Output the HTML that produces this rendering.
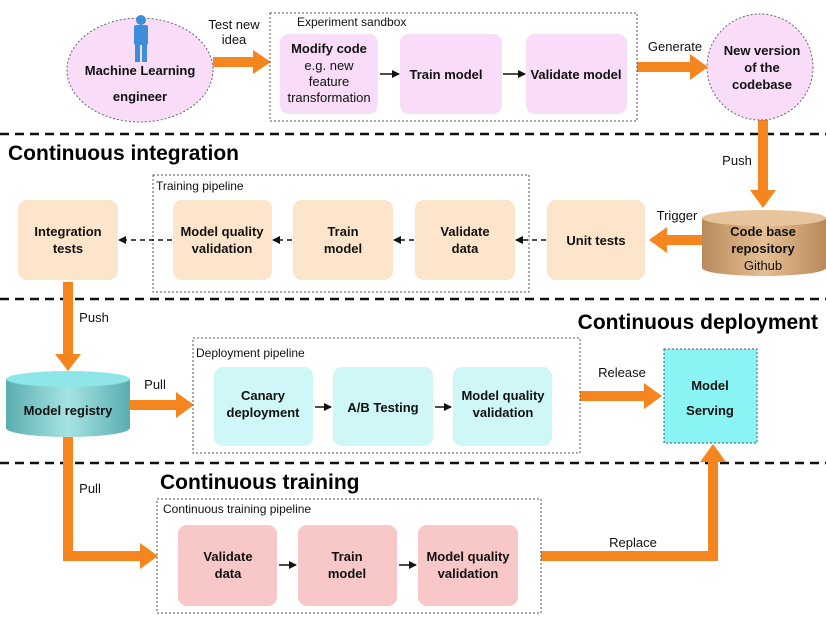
<!DOCTYPE html>
<html><head><meta charset="utf-8"><style>
body{margin:0;background:#fff}
svg{display:block;font-family:"Liberation Sans",sans-serif}
.b{font-weight:bold;font-size:13px;fill:#111}
.n{font-size:13px;fill:#111}
.s{font-size:12px;fill:#111}
.h{font-weight:bold;font-size:21px;fill:#000}
</style></head><body>
<svg width="826" height="622" viewBox="0 0 826 622">
<defs>
<linearGradient id="br" x1="0" x2="1"><stop offset="0" stop-color="#b88a5c"/><stop offset=".5" stop-color="#e6bf94"/><stop offset="1" stop-color="#b88a5c"/></linearGradient>
<linearGradient id="tl" x1="0" x2="1"><stop offset="0" stop-color="#5aaeb0"/><stop offset=".5" stop-color="#a6e3e3"/><stop offset="1" stop-color="#5aaeb0"/></linearGradient>
<marker id="ab" markerWidth="8" markerHeight="8" refX="7" refY="4" orient="auto" markerUnits="userSpaceOnUse"><path d="M0,0 L8,4 L0,8 z" fill="#111"/></marker>
</defs>
<g stroke="#111" stroke-width="2.5" stroke-dasharray="9,6">
<line x1="0" y1="134" x2="826" y2="134"/>
<line x1="0" y1="299" x2="826" y2="299"/>
<line x1="0" y1="463" x2="826" y2="463"/>
</g>
<g fill="#f5861f" stroke="none">
<rect x="213" y="57" width="42" height="10"/><path d="M253,50 L271,62 L253,74z"/>
<rect x="637" y="62" width="56" height="10"/><path d="M690,54 L708,67 L690,80z"/>
<rect x="758" y="120" width="10" height="72"/><path d="M750,190 L763,208 L776,190z"/>
<rect x="665" y="235" width="38" height="10"/><path d="M667,227 L649,240 L667,253z"/>
<rect x="63" y="282" width="10" height="74"/><path d="M55,354 L68,371 L81,354z"/>
<rect x="130" y="400" width="48" height="10"/><path d="M176,392 L194,405 L176,418z"/>
<rect x="580" y="391" width="66" height="10"/><path d="M644,383 L662,396 L644,409z"/>
<path d="M63,435 H73 V551 H140 V561 H63z"/><path d="M140,543 L158,556 L140,569z"/>
<path d="M541,551 H708 V460 H718 V561 H541z"/><path d="M700,462 L713,444 L726,462z"/>
</g>
<ellipse cx="140" cy="70" rx="73" ry="52" fill="#f8dcf8" stroke="#666" stroke-dasharray="2,2"/>
<g fill="#3d8ed8"><circle cx="141" cy="20" r="5"/><rect x="134" y="25" width="14" height="20" rx="2"/><rect x="135" y="44" width="5" height="18"/><rect x="142" y="44" width="5" height="18"/></g>
<text class="b" x="140" y="75" text-anchor="middle">Machine Learning</text>
<text class="b" x="140" y="101" text-anchor="middle">engineer</text>
<text class="n" x="234" y="29" text-anchor="middle">Test new</text>
<text class="n" x="234" y="44" text-anchor="middle">idea</text>
<rect x="270" y="13" width="367" height="108" fill="none" stroke="#555" stroke-dasharray="2,2"/>
<text class="s" x="297" y="26">Experiment sandbox</text>
<g fill="#f8dcf8"><rect x="280" y="34" width="98" height="80" rx="9"/><rect x="400" y="34" width="102" height="80" rx="9"/><rect x="526" y="34" width="101" height="80" rx="9"/></g>
<text class="b" x="329" y="53" text-anchor="middle">Modify code</text>
<text class="n" x="329" y="70" text-anchor="middle">e.g. new</text>
<text class="n" x="329" y="86" text-anchor="middle">feature</text>
<text class="n" x="329" y="102" text-anchor="middle">transformation</text>
<text class="b" x="446" y="79" text-anchor="middle">Train model</text>
<text class="b" x="576" y="79" text-anchor="middle">Validate model</text>
<g stroke="#111" stroke-width="1.5" marker-end="url(#ab)"><line x1="380" y1="74" x2="399" y2="74"/><line x1="503" y1="74" x2="525" y2="74"/></g>
<text class="n" x="675" y="51" text-anchor="middle">Generate</text>
<circle cx="760" cy="67" r="53" fill="#f8dcf8" stroke="#666" stroke-dasharray="2,2"/>
<text class="b" x="762" y="55" text-anchor="middle">New version</text>
<text class="b" x="762" y="72" text-anchor="middle">of the</text>
<text class="b" x="762" y="89" text-anchor="middle">codebase</text>
<text class="h" x="8" y="160">Continuous integration</text>
<text class="n" x="737" y="165" text-anchor="middle">Push</text>
<path d="M702,218 V268 A62,8 0 0 0 826,268 V218z" fill="url(#br)"/>
<ellipse cx="764" cy="218" rx="62" ry="8" fill="#e8c49c"/>
<text class="b" x="763" y="236" text-anchor="middle">Code base</text>
<text class="b" x="763" y="253" text-anchor="middle">repository</text>
<text class="n" x="763" y="270" text-anchor="middle">Github</text>
<text class="n" x="677" y="220" text-anchor="middle">Trigger</text>
<rect x="153" y="175" width="376" height="117" fill="none" stroke="#555" stroke-dasharray="2,2"/>
<text class="s" x="156" y="190">Training pipeline</text>
<g fill="#fde5cc"><rect x="547" y="200" width="98" height="80" rx="9"/><rect x="415" y="200" width="100" height="80" rx="9"/><rect x="293" y="200" width="100" height="80" rx="9"/><rect x="173" y="200" width="99" height="80" rx="9"/><rect x="18" y="200" width="100" height="80" rx="9"/></g>
<text class="b" x="596" y="245" text-anchor="middle">Unit tests</text>
<text class="b" x="465" y="236" text-anchor="middle">Validate</text><text class="b" x="465" y="253" text-anchor="middle">data</text>
<text class="b" x="343" y="236" text-anchor="middle">Train</text><text class="b" x="343" y="253" text-anchor="middle">model</text>
<text class="b" x="222" y="236" text-anchor="middle">Model quality</text><text class="b" x="222" y="253" text-anchor="middle">validation</text>
<text class="b" x="68" y="236" text-anchor="middle">Integration</text><text class="b" x="68" y="253" text-anchor="middle">tests</text>
<g stroke="#111" stroke-width="1.5" stroke-dasharray="5,4" marker-end="url(#ab)"><line x1="546" y1="240" x2="516" y2="240"/><line x1="414" y1="240" x2="394" y2="240"/><line x1="292" y1="240" x2="273" y2="240"/><line x1="172" y1="240" x2="119" y2="240"/></g>
<text class="n" x="94" y="322" text-anchor="middle">Push</text>
<text class="h" x="818" y="329" text-anchor="end">Continuous deployment</text>
<path d="M6,379 V428 A62,9 0 0 0 130,428 V379z" fill="url(#tl)"/>
<ellipse cx="68" cy="379" rx="62" ry="8" fill="#8ee6e8"/>
<text class="b" x="68" y="415" text-anchor="middle">Model registry</text>
<text class="n" x="155" y="389" text-anchor="middle">Pull</text>
<rect x="193" y="338" width="387" height="115" fill="none" stroke="#555" stroke-dasharray="2,2"/>
<text class="s" x="196" y="357">Deployment pipeline</text>
<g fill="#cff7f7"><rect x="214" y="367" width="99" height="79" rx="9"/><rect x="333" y="367" width="100" height="79" rx="9"/><rect x="453" y="367" width="99" height="79" rx="9"/></g>
<text class="b" x="263" y="400" text-anchor="middle">Canary</text><text class="b" x="263" y="417" text-anchor="middle">deployment</text>
<text class="b" x="383" y="412" text-anchor="middle">A/B Testing</text>
<text class="b" x="503" y="400" text-anchor="middle">Model quality</text><text class="b" x="503" y="417" text-anchor="middle">validation</text>
<g stroke="#111" stroke-width="1.5" marker-end="url(#ab)"><line x1="315" y1="407" x2="331" y2="407"/><line x1="435" y1="407" x2="451" y2="407"/></g>
<text class="n" x="622" y="377" text-anchor="middle">Release</text>
<rect x="664" y="349" width="93" height="94" fill="#8af3f3" stroke="#555" stroke-dasharray="2,2"/>
<text class="b" x="710" y="390" text-anchor="middle">Model</text>
<text class="b" x="710" y="415" text-anchor="middle">Serving</text>
<text class="h" x="160" y="489">Continuous training</text>
<text class="n" x="90" y="493" text-anchor="middle">Pull</text>
<rect x="157" y="499" width="384" height="114" fill="none" stroke="#555" stroke-dasharray="2,2"/>
<text class="s" x="163" y="513">Continuous training pipeline</text>
<g fill="#f8c8c8"><rect x="178" y="525" width="99" height="81" rx="9"/><rect x="298" y="525" width="99" height="81" rx="9"/><rect x="418" y="525" width="100" height="81" rx="9"/></g>
<text class="b" x="228" y="561" text-anchor="middle">Validate</text><text class="b" x="228" y="578" text-anchor="middle">data</text>
<text class="b" x="347" y="561" text-anchor="middle">Train</text><text class="b" x="347" y="578" text-anchor="middle">model</text>
<text class="b" x="468" y="561" text-anchor="middle">Model quality</text><text class="b" x="468" y="578" text-anchor="middle">validation</text>
<g stroke="#111" stroke-width="1.5" marker-end="url(#ab)"><line x1="279" y1="565" x2="296" y2="565"/><line x1="399" y1="565" x2="416" y2="565"/></g>
<text class="n" x="633" y="547" text-anchor="middle">Replace</text>
</svg>
</body></html>
